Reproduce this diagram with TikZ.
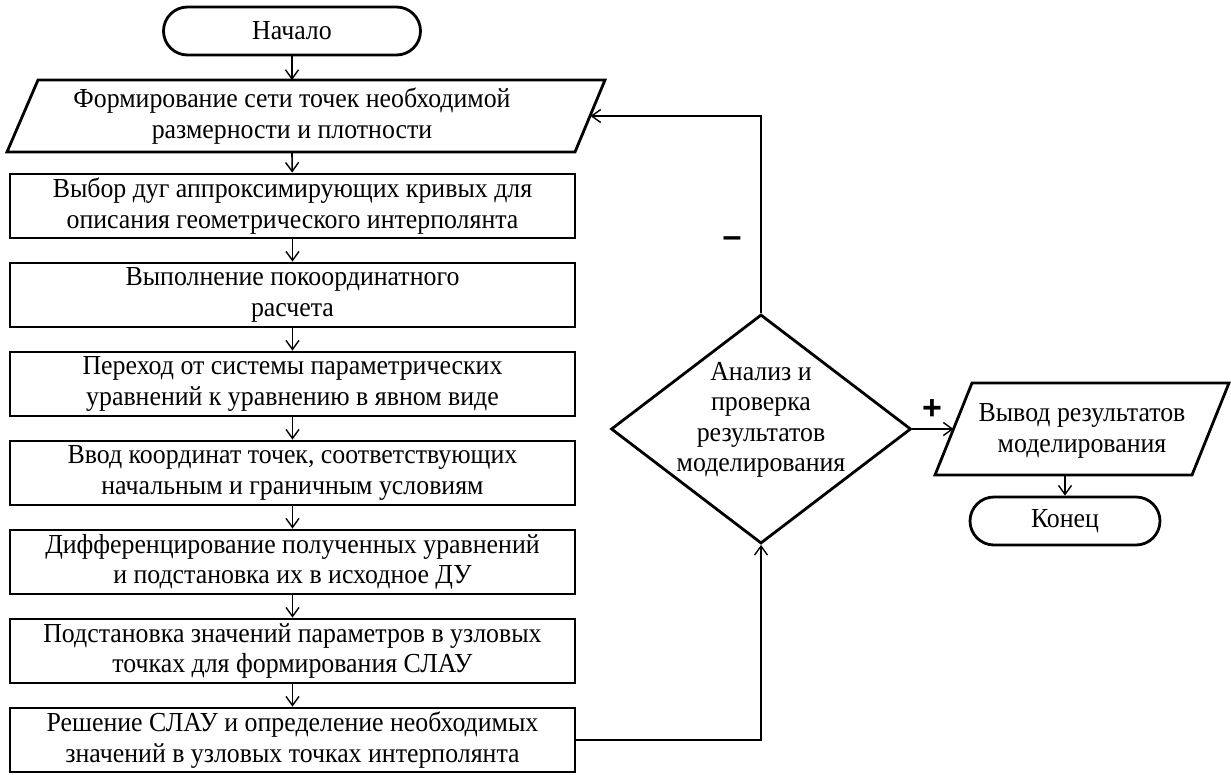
\documentclass[tikz,border=0pt]{standalone}
\usepackage{fontspec}
\setmainfont{Liberation Serif}[FakeStretch=0.94]
\newfontfamily\signfont{Liberation Sans}
\usetikzlibrary{shapes.geometric,arrows.meta}
\begin{document}
\begin{tikzpicture}[x=1pt,y=-1pt,
  every node/.style={font=\fontsize{27.5}{30.5}\selectfont, align=center},
  box/.style={draw, line width=2.8pt, minimum width=565pt, minimum height=64pt, inner sep=0pt},
  term/.style={draw, line width=2.8pt, rounded corners=24pt, minimum height=48pt, inner sep=0pt},
  shapeline/.style={line width=2.8pt, line join=miter},
  conn/.style={line width=1.6pt, -{Straight Barb[length=9pt,width=13pt,line width=1.4pt]}},
  sign/.style={font=\signfont\bfseries\fontsize{34}{36}\selectfont, inner sep=0pt}
]
\useasboundingbox (0,0) rectangle (1231,774);
\node[term, minimum width=257pt] (start) at (292,31) {Начало};
\draw[shapeline] (7,152) -- (38,80) -- (605,80) -- (575,152) -- cycle;
\node (p1) at (292,116) {Формирование сети точек необходимой\\размерности и плотности};
\coordinate (p1top) at (292,80);
\coordinate (p1bot) at (292,152);
\coordinate (p1in) at (590.5,116);
\node[box] (b1) at (292.5,206) {Выбор дуг аппроксимирующих кривых для\\описания геометрического интерполянта};
\node[box] (b2) at (292.5,295) {Выполнение покоординатного\\расчета};
\node[box] (b3) at (292.5,384) {Переход от системы параметрических\\уравнений к уравнению в явном виде};
\node[box] (b4) at (292.5,473) {Ввод координат точек, соответствующих\\начальным и граничным условиям};
\node[box] (b5) at (292.5,562) {Дифференцирование полученных уравнений\\и подстановка их в исходное ДУ};
\node[box] (b6) at (292.5,651) {Подстановка значений параметров в узловых\\точках для формирования СЛАУ};
\node[box] (b7) at (292.5,740) {Решение СЛАУ и определение необходимых\\значений в узловых точках интерполянта};
\node[diamond, draw, shapeline, minimum width=300pt, minimum height=229pt, inner sep=0pt] (dec) at (761,429) {};
\node (dect) at (761,420) {Анализ и\\проверка\\результатов\\моделирования};
\draw[shapeline] (935,475) -- (972,383) -- (1229,383) -- (1192,475) -- cycle;
\node (p2) at (1082,431) {Вывод результатов\\моделирования};
\coordinate (p2in) at (953.5,429);
\coordinate (p2bot) at (1065,475);
\node[term, minimum width=190pt] (end) at (1065,521) {Конец};
\node[sign] (minus) at (732,242) {–};
\node[sign] (plus) at (932,410) {+};
\draw[conn] (start) -- (p1top);
\draw[conn] (p1bot) -- (b1);
\draw[conn] (b1) -- (b2);
\draw[conn] (b2) -- (b3);
\draw[conn] (b3) -- (b4);
\draw[conn] (b4) -- (b5);
\draw[conn] (b5) -- (b6);
\draw[conn] (b6) -- (b7);
\draw[conn] (b7.east) -- (b7.east -| dec.south) -- (dec.south);
\draw[conn] (dec.north) |- (p1in);
\draw[conn] (dec.east) -- (p2in);
\draw[conn] (p2bot) -- (end);
\end{tikzpicture}
\end{document}
